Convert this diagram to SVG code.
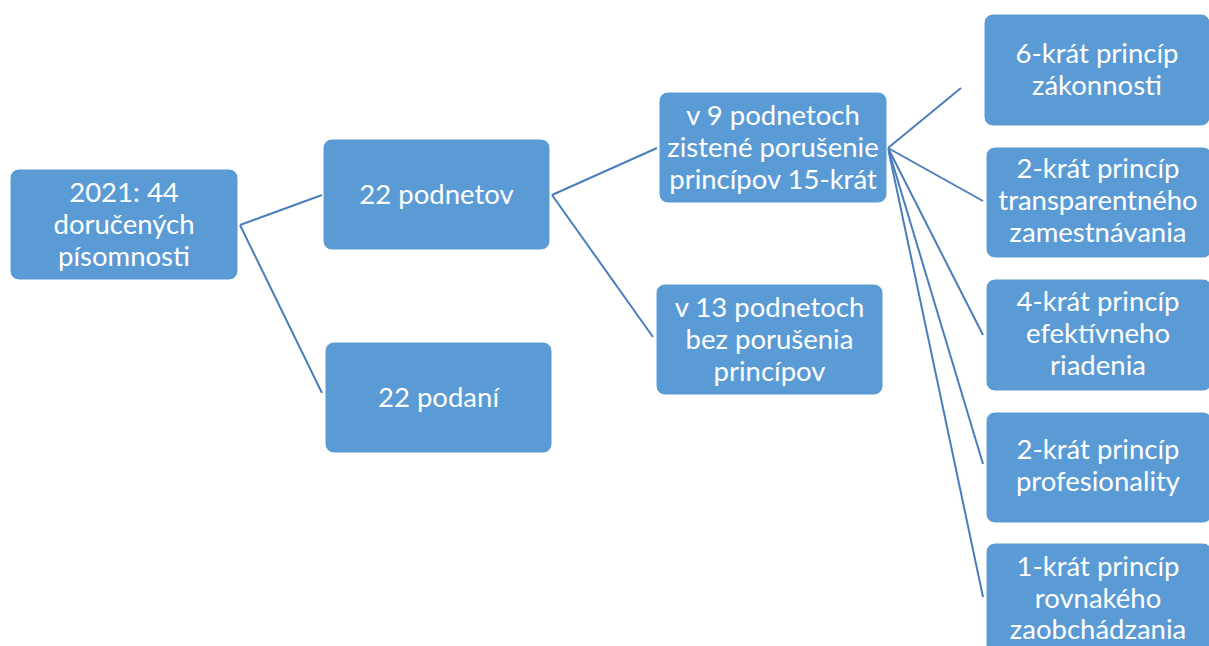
<svg xmlns="http://www.w3.org/2000/svg" width="1209" height="646" viewBox="0 0 1209 646">
<style>
.box{fill:#5B9BD5;stroke:#FFFFFF;stroke-width:1}
.t{font-family:Lato,"Open Sans","Liberation Sans",sans-serif;font-size:27.5px;fill:#FFFFFF;text-anchor:middle}
.c{stroke:#4A7EBB;stroke-width:2;fill:none}
</style>
<rect width="1209" height="646" fill="#FFFFFF"/>
<g id="connectors">
<line class="c" x1="240" y1="225" x2="322" y2="195"/>
<line class="c" x1="240" y1="225" x2="322" y2="393"/>
<line class="c" x1="552" y1="195" x2="657" y2="148"/>
<line class="c" x1="552" y1="195" x2="653" y2="337"/>
<line class="c" x1="888" y1="148" x2="961" y2="88"/>
<line class="c" x1="888" y1="148" x2="983" y2="201"/>
<line class="c" x1="888" y1="148" x2="983" y2="335"/>
<line class="c" x1="888" y1="148" x2="983" y2="464"/>
<line class="c" x1="888" y1="148" x2="983" y2="597"/>
</g>
<g id="n1"><rect class="box" x="10" y="169" width="228" height="111" rx="9"/>
<text class="t" x="124" y="202">2021: 44</text><text class="t" x="124" y="234">doručených</text><text class="t" x="124" y="266">písomnosti</text></g>
<g id="n2"><rect class="box" x="323" y="139" width="227" height="111" rx="9"/>
<text class="t" x="436.5" y="204">22 podnetov</text></g>
<g id="n3"><rect class="box" x="325" y="342" width="227" height="111" rx="9"/>
<text class="t" x="438.5" y="407">22 podaní</text></g>
<g id="n4"><rect class="box" x="659" y="92" width="228" height="111" rx="9"/>
<text class="t" x="773" y="124.5">v 9 podnetoch</text><text class="t" x="773" y="156.5">zistené porušenie</text><text class="t" x="773" y="188.5">princípov 15-krát</text></g>
<g id="n5"><rect class="box" x="656" y="284" width="227" height="111" rx="9"/>
<text class="t" x="769.5" y="316.5">v 13 podnetoch</text><text class="t" x="769.5" y="348.5">bez porušenia</text><text class="t" x="769.5" y="380.5">princípov</text></g>
<g id="n6"><rect class="box" x="984" y="14" width="226" height="112" rx="9"/>
<text class="t" x="1097" y="63">6-krát princíp</text><text class="t" x="1097" y="95">zákonnosti</text></g>
<g id="n7"><rect class="box" x="986" y="147" width="226" height="111" rx="9"/>
<text class="t" x="1098" y="178">2-krát princíp</text><text class="t" x="1098" y="210">transparentného</text><text class="t" x="1098" y="242">zamestnávania</text></g>
<g id="n8"><rect class="box" x="986" y="279" width="226" height="112" rx="9"/>
<text class="t" x="1098" y="311">4-krát princíp</text><text class="t" x="1098" y="343">efektívneho</text><text class="t" x="1098" y="375">riadenia</text></g>
<g id="n9"><rect class="box" x="986" y="412" width="226" height="111" rx="9"/>
<text class="t" x="1098" y="459">2-krát princíp</text><text class="t" x="1098" y="491">profesionality</text></g>
<g id="n10"><rect class="box" x="986" y="543" width="226" height="111" rx="9"/>
<text class="t" x="1098" y="576">1-krát princíp</text><text class="t" x="1098" y="608">rovnakého</text><text class="t" x="1098" y="639">zaobchádzania</text></g>
</svg>
